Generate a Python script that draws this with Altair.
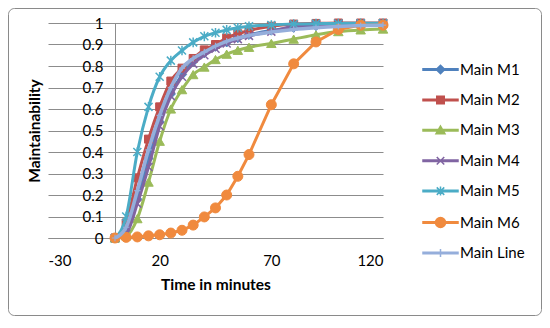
import altair as alt
import pandas as pd

# ---- data ----
time_min = [0, 5, 10, 15, 20, 25, 30, 35, 40, 45, 50, 55, 60, 70, 80, 90, 100, 110, 120]

main_m1 = [0, 0.03, 0.18, 0.37, 0.54, 0.67, 0.76, 0.82, 0.86, 0.89, 0.91, 0.93, 0.945, 0.965, 0.978, 0.986, 0.99, 0.993, 0.995]
main_m2 = [0, 0.07, 0.28, 0.46, 0.61, 0.73, 0.79, 0.835, 0.875, 0.9, 0.93, 0.95, 0.965, 0.985, 0.995, 0.998, 1, 1, 1]
main_m3 = [0, 0.01, 0.09, 0.26, 0.45, 0.6, 0.69, 0.76, 0.795, 0.83, 0.855, 0.873, 0.887, 0.905, 0.925, 0.945, 0.96, 0.968, 0.972]
main_m4 = [0, 0.02, 0.16, 0.33, 0.52, 0.66, 0.75, 0.81, 0.85, 0.88, 0.905, 0.925, 0.94, 0.96, 0.985, 0.992, 0.995, 0.997, 0.998]
main_m5 = [0, 0.1, 0.4, 0.61, 0.75, 0.825, 0.872, 0.91, 0.938, 0.955, 0.968, 0.978, 0.985, 0.991, 0.995, 0.997, 0.998, 0.999, 0.999]
main_m6 = [0, 0.003, 0.005, 0.01, 0.015, 0.023, 0.036, 0.06, 0.098, 0.14, 0.2, 0.287, 0.388, 0.62, 0.81, 0.912, 0.97, 0.99, 0.99]
main_line = [0, 0.05, 0.22, 0.41, 0.57, 0.7, 0.79, 0.835, 0.865, 0.893, 0.915, 0.93, 0.942, 0.958, 0.97, 0.978, 0.984, 0.988, 0.99]

series_names = ["Main M1", "Main M2", "Main M3", "Main M4", "Main M5", "Main M6", "Main Line"]
series_values = [main_m1, main_m2, main_m3, main_m4, main_m5, main_m6, main_line]
colors = ["#4F81BD", "#C0504D", "#9BBB59", "#8064A2", "#4BACC6", "#F08A3E", "#95AEDB"]

x_ticks = [-30, 20, 70, 120]
y_ticks = [0, 0.1, 0.2, 0.3, 0.4, 0.5, 0.6, 0.7, 0.8, 0.9, 1]
x_domain = [-30, 120]

# ---- styles ----
W, H = 335, 215
FONT = "Lato"
GRAY = "#8C8C8C"

X_PATH = "M-1,-1L1,1M-1,1L1,-1"
AST_PATH = "M-1,-1L1,1M-1,1L1,-1M0,-1.2V1.2"
PLUS_PATH = "M-1,0H1M0,-1V1"

# plot marker per series: (shape, filled, size, strokeWidth)
markers = [
    ("diamond", True, 85, 1),
    ("square", True, 64, 1),
    ("triangle-up", True, 90, 1),
    (X_PATH, False, 64, 1.5),
    (AST_PATH, False, 64, 1.5),
    ("circle", True, 100, 1),
    (PLUS_PATH, False, 40, 1.2),
]
line_widths = [3, 3, 3, 3, 3, 3, 3.5]
interps = ["monotone"] * 5 + ["linear", "monotone"]

BAR = "M-3.5,-0.15H3.5V0.15H-3.5Z"
legend_paths = [
    BAR + "M0,-0.85L0.85,0L0,0.85L-0.85,0Z",
    BAR + "M-0.75,-0.75H0.75V0.75H-0.75Z",
    BAR + "M0,-0.85L0.9,0.7H-0.9Z",
    BAR + "M-0.75,-0.75L0.75,0.75M-0.75,0.75L0.75,-0.75",
    BAR + "M-0.75,-0.75L0.75,0.75M-0.75,0.75L0.75,-0.75M0,-0.9V0.9",
    BAR + "M1,0A1,1,0,1,1,-1,0A1,1,0,1,1,1,0Z",
    BAR + "M0,-0.8V0.8",
]

rows = []
for name, vals in zip(series_names, series_values):
    for t, v in zip(time_min, vals):
        rows.append({"time": t, "series": name, "value": v})
df = pd.DataFrame(rows)

x_enc = alt.X(
    "time:Q",
    scale=alt.Scale(domain=x_domain, nice=False, zero=False),
    axis=alt.Axis(
        values=x_ticks, grid=False, ticks=False, domain=True, domainColor=GRAY,
        labelExpr="'' + datum.value", labelPadding=15, labelFontSize=15,
        title="Time in minutes", titlePadding=9, titleFontSize=15.5, titleFontWeight="bold",
    ),
)
y_offset = -W * (0 - x_domain[0]) / (x_domain[1] - x_domain[0])
y_enc = alt.Y(
    "value:Q",
    scale=alt.Scale(domain=[0, 1], nice=False),
    axis=alt.Axis(
        values=y_ticks, format=".1~f", grid=True, gridColor=GRAY, gridWidth=1,
        ticks=False, domain=True, domainColor=GRAY, offset=y_offset,
        labelPadding=12, labelFontSize=15,
        title="Maintainability", titlePadding=40, titleFontSize=15.5, titleFontWeight="bold",
    ),
)

border = alt.Chart(pd.DataFrame({"a": [0]})).mark_rect(
    filled=False, stroke="#8A8A8A", strokeWidth=1, cornerRadius=6
).encode(
    x=alt.value(-39.5), x2=alt.value(W + 158.5),
    y=alt.value(-14.5), y2=alt.value(H + 77.5),
)

layers = [border]
for name, color, (shape, filled, size, sw), lw, ip in zip(
    series_names, colors, markers, line_widths, interps
):
    base = alt.Chart(df[df.series == name])
    layers.append(
        base.mark_line(color=color, strokeWidth=lw, interpolate=ip).encode(x=x_enc, y=y_enc)
    )
    layers.append(
        base.mark_point(
            shape=shape, filled=True, fill=color if filled else "transparent",
            stroke=color, size=size, strokeWidth=sw, opacity=1,
        ).encode(x=x_enc, y=y_enc)
    )

leg = alt.Legend(
    title=None, orient="none", legendX=385, legendY=39,
    labelFont=FONT, labelFontSize=15, labelColor="#000000",
    symbolSize=100, symbolStrokeWidth=1.5, rowPadding=14.4, labelOffset=12, padding=0,
)
legend_layer = alt.Chart(df).transform_filter("false").mark_point(filled=True, opacity=1).encode(
    fill=alt.Fill("series:N", scale=alt.Scale(domain=series_names, range=colors), legend=leg),
    stroke=alt.Stroke("series:N", scale=alt.Scale(domain=series_names, range=colors), legend=leg),
    shape=alt.Shape("series:N", scale=alt.Scale(domain=series_names, range=legend_paths), legend=leg),
)
layers.append(legend_layer)

chart = alt.layer(*layers).properties(
    width=W, height=H, padding=0
).configure_view(stroke=None).configure_axis(
    labelFont=FONT, titleFont=FONT, labelColor="#000000", titleColor="#000000"
)

chart.save("out.html", embed_options={"renderer": "svg", "actions": False})
